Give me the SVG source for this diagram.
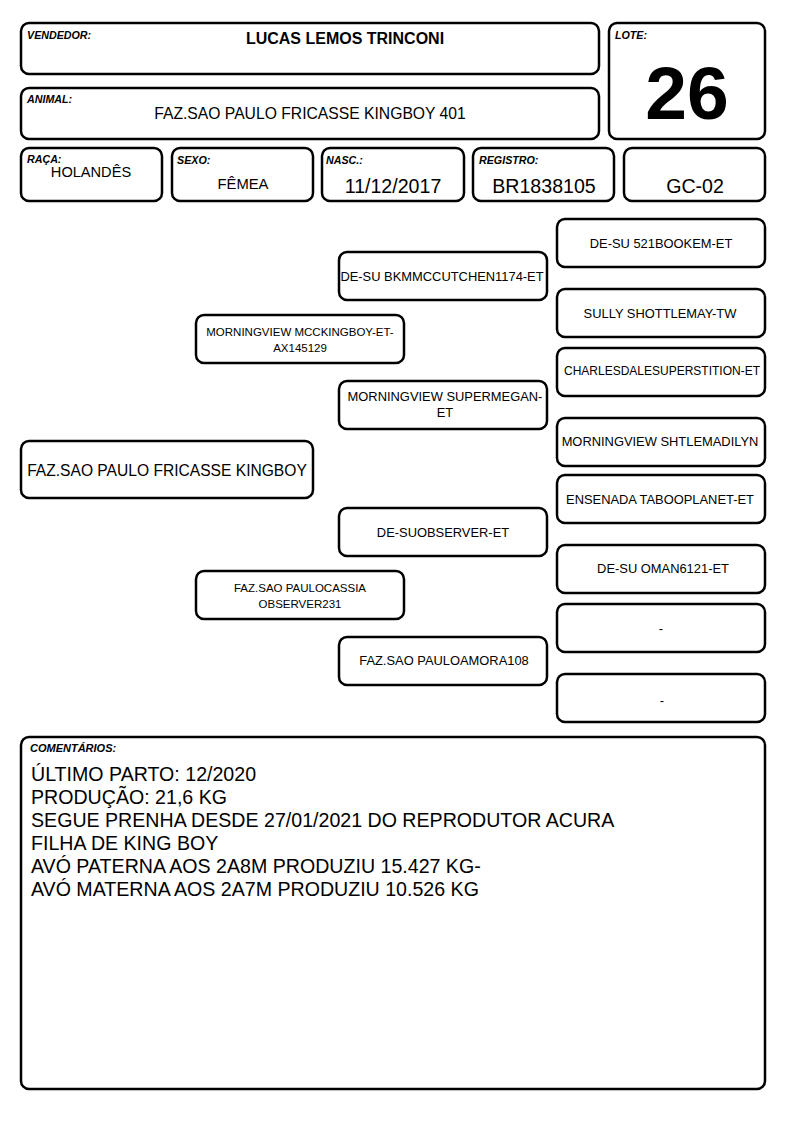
<svg xmlns="http://www.w3.org/2000/svg" width="794" height="1123" viewBox="0 0 794 1123">
<style>
.b{fill:#fff;stroke:#000;stroke-width:2.5}
.lb{font-family:"Liberation Sans",Arial,sans-serif;font-size:10.7px;font-weight:bold;font-style:italic;fill:#000}
.t{font-family:"Liberation Sans",Arial,sans-serif;fill:#000;text-anchor:middle}
.p{font-family:"Liberation Sans",Arial,sans-serif;fill:#000;text-anchor:middle;font-size:12.9px}
.s{font-size:11.5px}
.c{font-family:"Liberation Sans",Arial,sans-serif;fill:#000;font-size:19.6px}
</style>
<rect width="794" height="1123" fill="#fff"/>
<g id="vendedor"><rect class="b" x="21" y="23" width="578" height="51" rx="8"/><text class="lb" x="27" y="39">VENDEDOR:</text><text class="t" x="345" y="44" font-size="16" font-weight="bold">LUCAS LEMOS TRINCONI</text></g>
<g id="animal"><rect class="b" x="21" y="88" width="578" height="51" rx="8"/><text class="lb" x="27" y="103">ANIMAL:</text><text class="t" x="310" y="119" font-size="15.7">FAZ.SAO PAULO FRICASSE KINGBOY 401</text></g>
<g id="lote"><rect class="b" x="609" y="23" width="156" height="116" rx="8"/><text class="lb" x="615" y="39">LOTE:</text><text class="t" x="687" y="119" font-size="75" font-weight="bold">26</text></g>
<g id="raca"><rect class="b" x="21" y="148" width="141" height="53" rx="8"/><text class="lb" x="27" y="163">RAÇA:</text><text class="t" x="91" y="177" font-size="14.6">HOLANDÊS</text></g>
<g id="sexo"><rect class="b" x="172" y="148" width="141" height="53" rx="8"/><text class="lb" x="177" y="164">SEXO:</text><text class="t" x="243" y="189" font-size="14.8">FÊMEA</text></g>
<g id="nasc"><rect class="b" x="322" y="148" width="142" height="53" rx="8"/><text class="lb" x="326" y="164">NASC.:</text><text class="t" x="393" y="193" font-size="19.6">11/12/2017</text></g>
<g id="registro"><rect class="b" x="473" y="148" width="141" height="53" rx="8"/><text class="lb" x="479" y="164">REGISTRO:</text><text class="t" x="544" y="193" font-size="19.6">BR1838105</text></g>
<g id="gc"><rect class="b" x="624" y="148" width="141" height="53" rx="8"/><text class="t" x="695" y="193" font-size="19.6">GC-02</text></g>

<g id="animal-main"><rect class="b" x="21" y="441" width="292" height="57" rx="8"/><text class="t" x="167" y="476" font-size="15.6">FAZ.SAO PAULO FRICASSE KINGBOY</text></g>
<g id="pai"><rect class="b" x="196" y="315" width="208" height="48" rx="8"/><text class="p s" x="300" y="336">MORNINGVIEW MCCKINGBOY-ET-</text><text class="p s" x="300" y="352">AX145129</text></g>
<g id="mae"><rect class="b" x="196" y="571" width="208" height="48" rx="8"/><text class="p s" x="300" y="592">FAZ.SAO PAULOCASSIA</text><text class="p s" x="300" y="608">OBSERVER231</text></g>
<g id="avo-pp"><rect class="b" x="339" y="252" width="208" height="48" rx="8"/><text class="p" x="442" y="281">DE-SU BKMMCCUTCHEN1174-ET</text></g>
<g id="avo-pm"><rect class="b" x="339" y="381" width="208" height="48" rx="8"/><text class="p" x="445" y="401">MORNINGVIEW SUPERMEGAN-</text><text class="p" x="445" y="417">ET</text></g>
<g id="avo-mp"><rect class="b" x="339" y="508" width="208" height="48" rx="8"/><text class="p" x="443" y="537">DE-SUOBSERVER-ET</text></g>
<g id="avo-mm"><rect class="b" x="339" y="637" width="208" height="48" rx="8"/><text class="p" x="444" y="665">FAZ.SAO PAULOAMORA108</text></g>
<g id="bis1"><rect class="b" x="557" y="219" width="208" height="48" rx="8"/><text class="p" x="661" y="248">DE-SU 521BOOKEM-ET</text></g>
<g id="bis2"><rect class="b" x="557" y="289" width="208" height="48" rx="8"/><text class="p" x="660" y="318">SULLY SHOTTLEMAY-TW</text></g>
<g id="bis3"><rect class="b" x="557" y="348" width="208" height="48" rx="8"/><text class="p" x="662" y="375" style="font-size:12px">CHARLESDALESUPERSTITION-ET</text></g>
<g id="bis4"><rect class="b" x="557" y="418" width="208" height="48" rx="8"/><text class="p" x="660" y="446">MORNINGVIEW SHTLEMADILYN</text></g>
<g id="bis5"><rect class="b" x="557" y="475" width="208" height="48" rx="8"/><text class="p" x="660" y="504">ENSENADA TABOOPLANET-ET</text></g>
<g id="bis6"><rect class="b" x="557" y="545" width="208" height="48" rx="8"/><text class="p" x="663" y="573">DE-SU OMAN6121-ET</text></g>
<g id="bis7"><rect class="b" x="557" y="604" width="208" height="48" rx="8"/><text class="p" x="661" y="633">-</text></g>
<g id="bis8"><rect class="b" x="557" y="674" width="208" height="48" rx="8"/><text class="p" x="662" y="705">-</text></g>

<g id="comentarios"><rect class="b" x="21" y="737" width="744" height="352" rx="8"/><text class="lb" x="30" y="752" style="font-size:11px">COMENTÁRIOS:</text>
<text class="c" x="31" y="781">ÚLTIMO PARTO: 12/2020</text>
<text class="c" x="31" y="804">PRODUÇÃO: 21,6 KG</text>
<text class="c" x="31" y="827">SEGUE PRENHA DESDE 27/01/2021 DO REPRODUTOR ACURA</text>
<text class="c" x="31" y="850">FILHA DE KING BOY</text>
<text class="c" x="31" y="873">AVÓ PATERNA AOS 2A8M PRODUZIU 15.427 KG-</text>
<text class="c" x="31" y="896">AVÓ MATERNA AOS 2A7M PRODUZIU 10.526 KG</text>
</g>
<g id="connectors"></g>
</svg>
